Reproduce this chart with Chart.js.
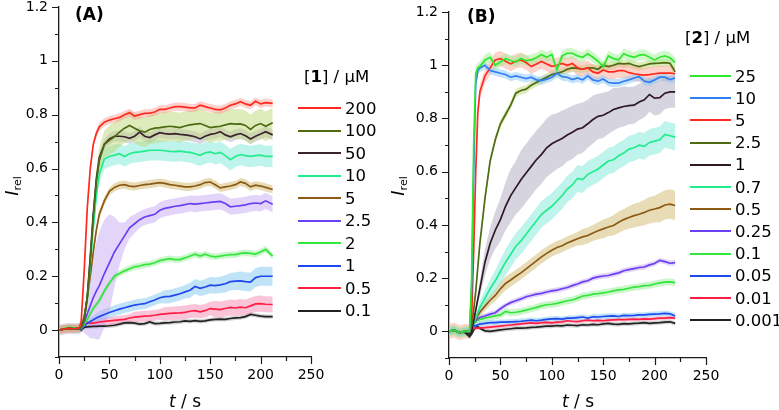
<!DOCTYPE html>
<html><head><meta charset="utf-8">
<script src="https://cdn.jsdelivr.net/npm/chart.js@4.4.1/dist/chart.umd.min.js"></script>
<style>
html,body{margin:0;padding:0;background:#fff;}
#wrap{position:relative;width:779px;height:410px;overflow:hidden;font-family:"DejaVu Sans",sans-serif;color:#000;}
canvas{position:absolute;top:0;}
.t{position:absolute;white-space:nowrap;height:20px;line-height:20px;}
.leg{position:absolute;height:20px;display:flex;align-items:center;white-space:nowrap;font-size:16.5px;}
.leg .ln{display:inline-block;height:2px;margin-right:4px;}
</style></head><body>
<div id="wrap">
<canvas id="cA" width="390" height="410" style="left:0"></canvas>
<canvas id="cB" width="389" height="410" style="left:390px"></canvas>
</div>
<script>
// ---------- axes ----------
const X_TICKS = [0,50,100,150,200,250];
const X_MINOR = [25,75,125,175,225];
const Y_TICKS = [0,0.2,0.4,0.6,0.8,1,1.2];
const Y_MINOR = [-0.1,0.1,0.3,0.5,0.7,0.9,1.1];

// ---------- panel A : [1] / µM ----------
const tA = [0,5,10,15,20,22,25,28,31,34,37,40,45,50,55,60,65,70,75,80,85,90,95,100,105,110,115,120,125,130,135,140,145,150,155,160,165,170,175,180,185,190,195,200,205,212];
const concA = ['200','100','50','10','5','2.5','2','1','0.5','0.1'];
const colorA = ['#ff2a1f','#4e6b12','#3b2330','#22ec8c','#8c5a12','#6b3ff2','#33e63a','#1f48f0','#ff1f45','#222222'];
const bandA = ['rgba(250,150,140,0.45)','rgba(190,215,120,0.5)','rgba(165,155,185,0.4)','rgba(110,230,210,0.45)','rgba(210,185,110,0.5)','rgba(200,170,245,0.5)','rgba(140,235,140,0.45)','rgba(130,200,240,0.5)','rgba(245,140,180,0.5)','rgba(160,160,160,0.45)'];

const A_200 = [0,.004,.006,.005,.008,.03,.22,.45,.60,.69,.73,.755,.772,.78,.785,.79,.80,.807,.795,.80,.805,.806,.81,.82,.82,.825,.83,.83,.828,.825,.825,.835,.83,.825,.82,.818,.825,.835,.84,.848,.84,.835,.85,.84,.845,.842];
const A_100 = [0,.004,.006,.005,.006,.01,.04,.12,.26,.42,.55,.63,.69,.705,.718,.735,.75,.76,.75,.74,.735,.745,.75,.752,.755,.757,.755,.752,.758,.762,.765,.767,.76,.752,.755,.757,.762,.767,.765,.766,.76,.745,.76,.767,.757,.77];
const A_50 = [0,.004,.006,.005,.006,.01,.04,.12,.27,.43,.56,.64,.69,.71,.72,.72,.718,.712,.72,.735,.72,.715,.725,.733,.73,.728,.73,.727,.725,.722,.718,.71,.72,.727,.73,.737,.725,.718,.725,.73,.722,.71,.72,.728,.737,.725];
const A_10 = [0,.004,.006,.005,.006,.01,.04,.11,.24,.38,.50,.58,.635,.645,.65,.655,.645,.655,.66,.662,.665,.668,.668,.668,.666,.664,.663,.665,.662,.66,.655,.649,.658,.662,.655,.66,.648,.633,.645,.652,.648,.645,.648,.65,.645,.645];
const A_5 = [0,.004,.006,.005,.006,.01,.05,.12,.2,.29,.37,.43,.48,.515,.53,.538,.54,.535,.533,.537,.54,.542,.545,.548,.545,.54,.538,.535,.532,.532,.535,.54,.548,.55,.54,.528,.532,.535,.54,.55,.545,.532,.538,.535,.53,.522];
const A_2_5 = [0,.004,.005,.005,.005,.005,.03,.06,.09,.12,.145,.165,.21,.25,.29,.32,.35,.38,.395,.41,.42,.425,.43,.445,.452,.456,.46,.462,.466,.47,.468,.47,.472,.474,.476,.478,.47,.458,.46,.462,.465,.47,.472,.47,.48,.467];
const A_2 = [0,.006,.01,.008,.006,.005,.02,.04,.06,.08,.095,.11,.145,.175,.2,.21,.22,.228,.235,.238,.243,.245,.25,.258,.262,.265,.262,.262,.268,.275,.282,.275,.282,.275,.272,.275,.278,.28,.28,.285,.287,.285,.282,.29,.30,.275];
const A_1 = [0,.004,.006,.005,.006,.005,.015,.025,.032,.038,.045,.05,.058,.065,.072,.078,.083,.088,.093,.096,.098,.105,.112,.12,.124,.125,.13,.135,.142,.148,.162,.155,.16,.167,.165,.168,.172,.18,.182,.183,.18,.178,.195,.2,.2,.2];
const A_0_5 = [0,.004,.006,.005,.006,.005,.02,.028,.025,.027,.028,.03,.032,.034,.036,.038,.04,.045,.048,.05,.052,.053,.055,.058,.06,.062,.063,.064,.066,.07,.072,.068,.072,.08,.078,.076,.08,.084,.082,.085,.083,.09,.097,.098,.096,.095];
const A_0_1 = [0,.003,.005,.004,.004,0,.01,.012,.013,.014,.014,.015,.015,.016,.018,.022,.027,.028,.026,.022,.024,.03,.024,.025,.027,.028,.03,.031,.034,.032,.035,.032,.034,.038,.04,.041,.04,.043,.045,.046,.05,.058,.055,.052,.05,.05];

const SD_A_100 = [.01,.01,.01,.01,.01,.01,.02,.03,.04,.04,.045,.05,.05,.055,.055,.055,.055,.055,.055,.055,.055,.055,.055,.055,.055,.055,.055,.055,.055,.055,.055,.055,.055,.055,.055,.055,.055,.055,.055,.055,.055,.055,.055,.055,.055,.055];
const SD_A_10 = [.01,.01,.01,.01,.01,.01,.015,.02,.025,.03,.035,.035,.038,.038,.038,.038,.038,.038,.038,.038,.038,.038,.038,.038,.038,.038,.038,.038,.038,.038,.04,.04,.04,.04,.04,.04,.04,.04,.04,.04,.04,.04,.04,.04,.04,.04];
const SD_A_2_5 = [.005,.005,.005,.005,.005,.01,.04,.08,.12,.15,.18,.2,.2,.18,.13,.08,.05,.04,.035,.03,.03,.03,.03,.03,.03,.03,.03,.03,.03,.03,.03,.03,.03,.03,.03,.03,.03,.03,.03,.03,.03,.03,.03,.03,.03,.03];
const SD_A_1 = [.005,.005,.005,.005,.005,.005,.01,.012,.015,.015,.018,.02,.02,.02,.02,.02,.02,.02,.02,.02,.02,.02,.02,.02,.025,.025,.025,.025,.025,.028,.028,.028,.03,.03,.03,.03,.032,.032,.033,.035,.035,.035,.035,.035,.035,.035];
const SD_A_0_5 = [.005,.005,.005,.005,.005,.005,.008,.01,.01,.01,.012,.012,.015,.015,.015,.015,.015,.015,.02,.02,.02,.02,.02,.02,.025,.025,.025,.025,.025,.025,.025,.025,.025,.025,.03,.03,.03,.03,.03,.03,.03,.03,.03,.03,.03,.03];

const meanA = [A_200,A_100,A_50,A_10,A_5,A_2_5,A_2,A_1,A_0_5,A_0_1];
const sdA = [.015,SD_A_100,.02,SD_A_10,.015,SD_A_2_5,.012,SD_A_1,SD_A_0_5,.008];

// ---------- panel B : [2] / µM ----------
const tB = [0,5,10,15,20,22,24,26,28,30,35,40,45,50,55,60,65,70,75,80,85,90,95,100,105,110,115,120,125,130,135,140,145,150,155,160,165,170,175,180,185,190,195,200,205,210,215,220];
const concB = ['25','10','5','2.5','1','0.7','0.5','0.25','0.1','0.05','0.01','0.001'];
const colorB = ['#2ee82e','#2f7ff5','#ff2a1f','#4e6b12','#2e1824','#22ec8c','#8c5a12','#6b3ff2','#33e63a','#1f48f0','#ff1f45','#222222'];
const bandB = ['rgba(150,240,140,0.45)','rgba(140,200,245,0.5)','rgba(250,160,140,0.45)','rgba(190,215,120,0.5)','rgba(165,160,185,0.45)','rgba(110,230,210,0.45)','rgba(210,185,110,0.5)','rgba(200,170,245,0.5)','rgba(140,235,140,0.45)','rgba(130,200,240,0.5)','rgba(245,140,180,0.45)','rgba(160,160,160,0.45)'];

const B_25 = [0,.005,-.005,0,0,.2,.7,.97,.99,.995,1.02,1.03,1.0,1.012,1.025,1.018,1.012,1.025,1.017,1.02,1.028,1.04,1.03,1.04,.982,1.035,1.045,1.045,1.035,1.03,1.043,1.03,1.015,.994,1.035,1.025,1.02,1.043,1.035,1.03,1.038,1.04,1.03,1.02,1.03,1.035,1.028,1.01];
const B_10 = [0,.005,-.005,0,0,.15,.6,.93,.98,.99,1.0,.98,.975,.97,.965,.955,.96,.955,.95,.955,.945,.942,.948,.955,.97,.957,.955,.946,.952,.945,.96,.945,.94,.948,.935,.933,.933,.94,.945,.952,.957,.94,.936,.945,.955,.955,.946,.952];
const B_5 = [0,.005,-.005,0,0,.05,.3,.6,.82,.9,.96,.99,1.02,1.025,1.015,1.005,1.015,1.02,1.01,.995,1.005,1.014,1.005,.996,1.0,1.007,1.0,1.007,.99,.985,.99,.975,.97,.982,.975,.975,.98,.98,.972,.968,.965,.963,.965,.968,.97,.97,.97,.968];
const B_2_5 = [0,.005,-.005,0,0,.02,.08,.15,.24,.33,.5,.64,.72,.78,.815,.85,.895,.905,.91,.925,.935,.945,.955,.965,.97,.975,.985,.99,.988,.985,.99,.99,.985,1.0,.995,1.0,1.007,1.005,1.007,1.0,.995,1.0,1.005,1.007,1.008,1.01,1.007,.975];
const B_1 = [0,.005,-.005,0,-.01,0,.04,.08,.12,.16,.26,.33,.38,.42,.47,.51,.54,.57,.595,.62,.645,.665,.69,.705,.715,.725,.738,.748,.76,.765,.78,.796,.808,.812,.822,.834,.84,.845,.848,.85,.862,.87,.89,.876,.878,.895,.9,.9];
const B_0_7 = [0,.005,-.005,0,-.005,.01,.03,.05,.07,.09,.125,.16,.19,.225,.26,.29,.32,.34,.365,.39,.415,.44,.455,.47,.49,.51,.535,.55,.575,.57,.59,.6,.61,.625,.64,.645,.66,.67,.685,.69,.7,.695,.71,.715,.72,.74,.735,.73];
const B_0_5 = [0,.005,-.005,0,-.005,.01,.03,.045,.06,.072,.095,.117,.135,.16,.18,.193,.207,.22,.235,.25,.265,.28,.293,.305,.315,.322,.332,.34,.348,.355,.36,.37,.378,.385,.392,.398,.41,.42,.428,.435,.44,.447,.455,.46,.465,.475,.478,.473];
const B_0_25 = [0,.005,-.005,0,-.005,.01,.03,.04,.048,.052,.058,.065,.07,.085,.098,.108,.115,.122,.13,.135,.14,.143,.148,.152,.155,.16,.165,.172,.178,.186,.19,.2,.205,.208,.21,.215,.22,.228,.232,.236,.24,.242,.25,.255,.267,.262,.256,.258];
const B_0_1 = [0,.005,-.005,0,-.005,.01,.03,.038,.042,.045,.05,.054,.058,.062,.075,.07,.072,.075,.08,.085,.09,.096,.1,.102,.105,.11,.115,.118,.125,.133,.135,.14,.142,.145,.148,.152,.156,.158,.162,.166,.168,.172,.173,.178,.182,.185,.186,.183];
const B_0_05 = [0,.005,-.005,0,-.005,.01,.02,.022,.025,.027,.03,.033,.033,.035,.035,.036,.037,.038,.04,.042,.04,.042,.045,.047,.048,.046,.05,.05,.052,.054,.05,.055,.054,.056,.057,.058,.056,.06,.059,.06,.062,.062,.064,.065,.066,.068,.066,.058];
const B_0_01 = [0,.005,-.005,0,-.005,.005,.01,.012,.012,.013,.014,.016,.018,.02,.022,.024,.026,.028,.03,.032,.03,.033,.034,.032,.035,.036,.04,.038,.037,.04,.042,.04,.041,.04,.042,.043,.044,.044,.045,.046,.045,.047,.046,.048,.05,.05,.052,.05];
const B_0_001 = [0,.005,-.005,-.003,-.02,-.01,.005,.015,.018,.012,.002,0,.003,.006,.008,.01,.012,.012,.013,.015,.016,.018,.02,.02,.022,.021,.024,.023,.022,.025,.024,.026,.025,.028,.03,.027,.026,.029,.028,.03,.031,.033,.03,.032,.033,.035,.036,.03];

const SD_B_1 = [.005,.005,.005,.005,.005,.005,.01,.015,.02,.03,.05,.06,.07,.08,.09,.1,.1,.11,.11,.11,.11,.11,.11,.11,.105,.105,.1,.1,.095,.095,.09,.09,.085,.085,.08,.08,.075,.075,.07,.07,.068,.066,.065,.065,.062,.06,.06,.06];
const SD_B_0_7 = [.005,.005,.005,.005,.005,.005,.01,.015,.02,.025,.03,.035,.04,.045,.05,.05,.05,.05,.05,.05,.05,.05,.05,.05,.05,.05,.05,.05,.05,.05,.05,.05,.05,.05,.05,.05,.05,.05,.05,.05,.05,.05,.05,.05,.05,.05,.05,.05];
const SD_B_0_5 = [.005,.005,.005,.005,.005,.005,.008,.01,.012,.015,.018,.02,.022,.025,.025,.025,.025,.025,.025,.025,.025,.025,.025,.025,.025,.025,.025,.025,.025,.03,.03,.03,.032,.035,.035,.038,.04,.04,.042,.045,.045,.048,.05,.05,.055,.055,.055,.055];

const meanB = [B_25,B_10,B_5,B_2_5,B_1,B_0_7,B_0_5,B_0_25,B_0_1,B_0_05,B_0_01,B_0_001];
const sdB = [.02,.015,.028,.015,SD_B_1,SD_B_0_7,SD_B_0_5,.01,.013,.01,.007,.008];

// ---------- chart building ----------
Chart.defaults.font.family = 'DejaVu Sans';
const axisTicks = {
  id: 'axisTicks',
  afterDraw(chart) {
    const {ctx, chartArea: {left, bottom}, scales: {x, y}} = chart;
    ctx.save();
    ctx.strokeStyle = '#1a1a1a';
    ctx.lineWidth = 1.2;
    ctx.beginPath();
    const yl = (v, len) => { const p = Math.round(y.getPixelForValue(v)) + 0.5; ctx.moveTo(left - len, p); ctx.lineTo(left, p); };
    const xl = (v, len) => { const p = Math.round(x.getPixelForValue(v)) + 0.5; ctx.moveTo(p, bottom); ctx.lineTo(p, bottom + len); };
    Y_TICKS.forEach(v => yl(v, 7));
    Y_MINOR.forEach(v => yl(v, 4));
    X_TICKS.forEach(v => xl(v, 7));
    X_MINOR.forEach(v => xl(v, 4));
    ctx.stroke();
    ctx.restore();
  }
};

function makeChart(id, t, concs, colors, bands, means, sds, pad) {
  const datasets = [];
  means.forEach((m, i) => {
    datasets.push({label: concs[i], data: t.map((x, k) => ({x, y: m[k]})),
      borderColor: colors[i], borderWidth: 1.7, pointRadius: 0, fill: false, order: 0, tension: 0});
  });
  means.forEach((m, i) => {
    const sd = sds[i];
    const s = k => Array.isArray(sd) ? sd[k] : sd;
    datasets.push({label: '_hi', data: t.map((x, k) => ({x, y: m[k] + s(k)})),
      borderColor: 'rgba(0,0,0,0)', borderWidth: 1, pointRadius: 0, backgroundColor: bands[i], fill: '+1', order: 1});
    datasets.push({label: '_lo', data: t.map((x, k) => ({x, y: m[k] - s(k)})),
      borderColor: 'rgba(0,0,0,0)', borderWidth: 1, pointRadius: 0, fill: false, order: 1});
  });
  const tickFont = {family: 'DejaVu Sans', size: 14};
  return new Chart(document.getElementById(id), {
    type: 'line',
    data: {datasets},
    plugins: [axisTicks],
    options: {
      responsive: false, animation: false, devicePixelRatio: 1,
      layout: {padding: pad},
      plugins: {legend: {display: false}, tooltip: {enabled: false}},
      scales: {
        x: {type: 'linear', min: 0, max: 250,
          afterBuildTicks: s => { s.ticks = X_TICKS.map(v => ({value: v})); },
          afterFit: s => { s.height = 30; s.paddingLeft = 0; s.paddingRight = 0; },
          grid: {display: false, drawTicks: false},
          border: {display: true, color: '#1a1a1a', width: 1.3},
          ticks: {padding: 10, color: '#000', font: tickFont, maxRotation: 0, autoSkip: false, callback: v => String(v)}},
        y: {type: 'linear', min: -0.1, max: 1.2,
          afterBuildTicks: s => { s.ticks = Y_TICKS.map(v => ({value: v})); },
          afterFit: s => { s.width = 59; s.paddingTop = 0; s.paddingBottom = 0; },
          grid: {display: false, drawTicks: false},
          border: {display: true, color: '#1a1a1a', width: 1.3},
          ticks: {padding: 11, color: '#000', font: tickFont, autoSkip: false, callback: v => String(Math.round(v * 10) / 10)}}
      }
    }
  });
}

makeChart('cA', tA, concA, colorA, bandA, meanA, sdA, {left: 0, right: 79, top: 7, bottom: 23});
makeChart('cB', tB, concB, colorB, bandB, meanB, sdB, {left: 0, right: 73, top: 12, bottom: 22});

// ---------- text overlays ----------
const wrap = document.getElementById('wrap');
function txt(html, left, cy, size) {
  const d = document.createElement('div');
  d.className = 't';
  d.style.left = left + 'px';
  d.style.top = (cy - 10) + 'px';
  d.style.fontSize = size + 'px';
  d.innerHTML = html;
  wrap.appendChild(d);
  return d;
}
function centered(html, cx, cy, size, rotate) {
  const d = document.createElement('div');
  d.className = 't';
  d.style.left = cx + 'px';
  d.style.top = (cy - 10) + 'px';
  d.style.fontSize = size + 'px';
  d.style.transform = 'translateX(-50%)' + (rotate ? ' rotate(-90deg)' : '');
  d.innerHTML = html;
  wrap.appendChild(d);
}
function legend(title, concs, colors, titleLeft, titleCy, lineLeft, lineW, firstCy, step) {
  txt(title, titleLeft, titleCy, 16.5);
  concs.forEach((c, i) => {
    const row = document.createElement('div');
    row.className = 'leg';
    row.style.left = lineLeft + 'px';
    row.style.top = (firstCy + i * step - 10) + 'px';
    row.innerHTML = '<span class="ln" style="width:' + lineW + 'px;background:' + colors[i] + '"></span><span>' + c + '</span>';
    wrap.appendChild(row);
  });
}
txt('<b>(A)</b>', 75, 14, 17);
txt('<b>(B)</b>', 467, 16, 17);
legend('[<b>1</b>] / µM', concA, colorA, 304, 77, 298, 43, 108, 22.5);
legend('[<b>2</b>] / µM', concB, colorB, 685, 38, 690, 41, 76, 22.2);
const yTitle = '<i>I</i><sub style="font-size:11px;vertical-align:-3px">rel</sub>';
centered(yTitle, 12, 186, 18, true);
centered(yTitle, 398, 186, 18, true);
centered('<i>t</i> / s', 185, 401, 17);
centered('<i>t</i> / s', 578, 401, 17);
</script>
</body></html>
